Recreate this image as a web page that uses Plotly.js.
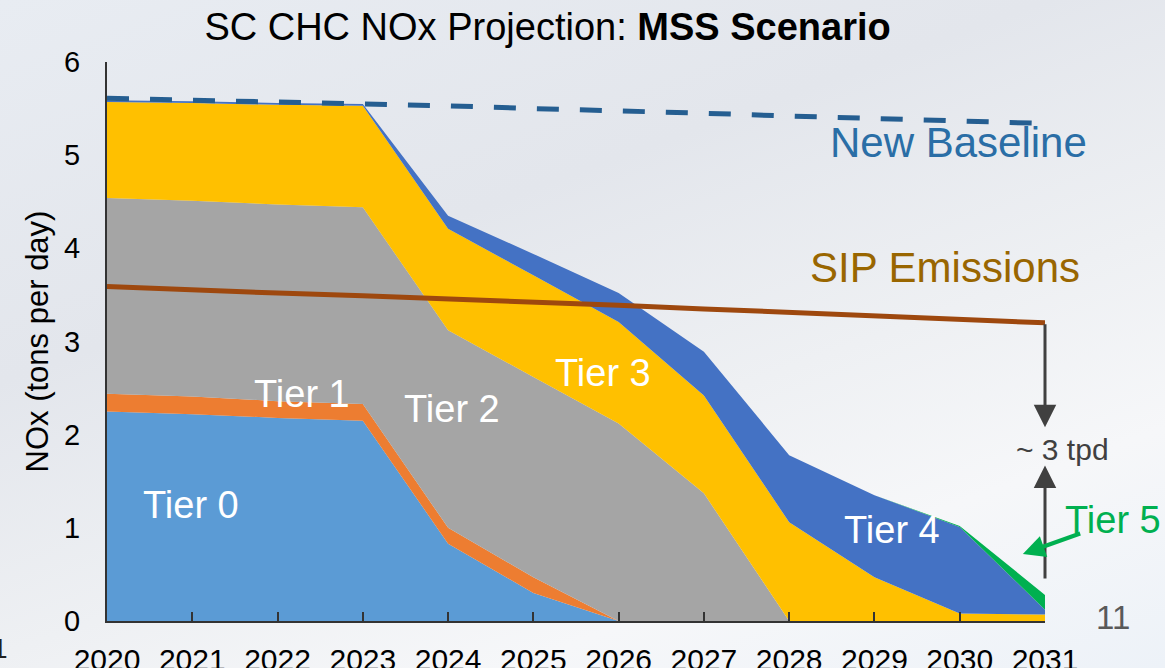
<!DOCTYPE html>
<html>
<head>
<meta charset="utf-8">
<script src="https://cdn.plot.ly/plotly-3.0.1.min.js"></script>
<style>
  html, body { margin: 0; padding: 0; }
  body {
    width: 1165px; height: 668px; overflow: hidden;
    background: linear-gradient(160deg, #E8ECF2 0%, #E3E6EC 35%, #EEF0F3 60%, #F6F7F9 78%, #EDF2F8 100%);
  }
  #chart { width: 1165px; height: 668px; }
</style>
</head>
<body>
<div id="chart"></div>
<script>
// ---- data ----
const years = [2020, 2021, 2022, 2023, 2024, 2025, 2026, 2027, 2028, 2029, 2030, 2031];
const tier0 = [2.25, 2.22, 2.18, 2.15, 0.83, 0.30, 0, 0, 0, 0, 0, 0];
const tier1 = [0.19, 0.19, 0.18, 0.18, 0.17, 0.17, 0, 0, 0, 0, 0, 0];
const tier2 = [2.10, 2.10, 2.11, 2.11, 2.12, 2.15, 2.12, 1.37, 0, 0, 0, 0];
const tier3 = [1.03, 1.05, 1.07, 1.09, 1.09, 1.09, 1.09, 1.05, 1.06, 0.47, 0.08, 0.07];
const tier4 = [0.02, 0.02, 0.02, 0.02, 0.14, 0.23, 0.31, 0.47, 0.72, 0.88, 0.93, 0.05];
const tier5 = [0, 0, 0, 0, 0, 0, 0, 0, 0, 0, 0.01, 0.16];
const newBaseline = [5.61, 5.59, 5.58, 5.56, 5.53, 5.50, 5.48, 5.45, 5.42, 5.39, 5.37, 5.34];
const sipEmissions = [3.59, 3.55, 3.52, 3.49, 3.46, 3.43, 3.39, 3.35, 3.31, 3.27, 3.24, 3.20];
const tierNames = ["Tier 0", "Tier 1", "Tier 2", "Tier 3", "Tier 4", "Tier 5"];
const tierColors = ["#5B9BD5", "#ED7D31", "#A5A5A5", "#FFC000", "#4472C4", "#00B050"];
const tierSeries = [tier0, tier1, tier2, tier3, tier4, tier5];

const FONT = "Arial, 'Liberation Sans', sans-serif";

const traces = tierSeries.map((vals, i) => ({
  x: years, y: vals, name: tierNames[i], type: "scatter",
  mode: "none", stackgroup: "tiers", fill: "tonexty",
  fillcolor: tierColors[i], hoverinfo: "skip"
}));
traces.push({
  x: years, y: sipEmissions, name: "SIP Emissions", type: "scatter", mode: "lines",
  line: { color: "#9E480E", width: 5 }, hoverinfo: "skip"
});
traces.push({
  x: years, y: newBaseline, name: "New Baseline", type: "scatter", mode: "lines",
  line: { color: "#255E91", width: 5, dash: "22px,21px" }, hoverinfo: "skip"
});

const lastYear = years[years.length - 1];
const sipEnd = sipEmissions[sipEmissions.length - 1];

const annotations = [
  { x: 2020.985, y: 1.245, text: "Tier 0", font: { size: 38, color: "#FFFFFF" } },
  { x: 2022.29, y: 2.44, text: "Tier 1", font: { size: 38, color: "#FFFFFF" } },
  { x: 2024.05, y: 2.28, text: "Tier 2", font: { size: 38, color: "#FFFFFF" } },
  { x: 2025.82, y: 2.66, text: "Tier 3", font: { size: 38, color: "#FFFFFF" } },
  { x: 2029.21, y: 0.98, text: "Tier 4", font: { size: 38, color: "#FFFFFF" } },
  { xref: "paper", yref: "paper", x: 1.0725, y: 0.181, text: "Tier 5", font: { size: 38, color: "#00B050" } },
  { x: 2029.98, y: 5.14, text: "New Baseline", font: { size: 42, color: "#2A6EA6" } },
  { x: 2029.83, y: 3.79, text: "SIP Emissions", font: { size: 42, color: "#996600" } },
  { xref: "paper", yref: "paper", x: 1.019, y: 0.306, text: "~ 3 tpd", font: { size: 30, color: "#404040" } },
  { xref: "paper", yref: "paper", x: 1.0725, y: 0.007, text: "11", font: { size: 33, color: "#595959" } },
  { xref: "paper", yref: "paper", x: -0.1035, y: -0.05, xanchor: "right", text: "1", font: { size: 28, color: "#202020" } },
  // down arrow from SIP line end
  { x: lastYear, y: 2.08, ax: lastYear, ay: sipEnd, axref: "x", ayref: "y", text: "",
    showarrow: true, arrowhead: 2, arrowsize: 1.5, arrowwidth: 3, arrowcolor: "#404040" },
  // up arrow
  { x: lastYear, y: 1.67, ax: lastYear, ay: 0.44, axref: "x", ayref: "y", text: "",
    showarrow: true, arrowhead: 2, arrowsize: 1.5, arrowwidth: 3, arrowcolor: "#404040" },
  // green arrow to Tier 5
  { x: 2030.74, y: 0.72, ax: 2031.43, ay: 0.945, axref: "x", ayref: "y", text: "",
    showarrow: true, arrowhead: 2, arrowsize: 1.1, arrowwidth: 4, arrowcolor: "#00B050" }
].map(a => Object.assign({ xref: "x", yref: "y", showarrow: false, xanchor: "center", yanchor: "middle" }, a,
  { font: Object.assign({ family: FONT }, a.font) }));

const layout = {
  width: 1165, height: 668,
  paper_bgcolor: "rgba(0,0,0,0)", plot_bgcolor: "rgba(0,0,0,0)",
  margin: { l: 107, r: 120, t: 62, b: 47, pad: 0 },
  showlegend: false,
  font: { family: FONT, color: "#000000" },
  title: {
    text: "SC CHC NOx Projection: <b>MSS Scenario</b>",
    font: { size: 38, family: FONT, color: "#000000" },
    x: 0.47, xanchor: "center", xref: "container",
    y: 1 - 27 / 668, yanchor: "middle", yref: "container"
  },
  xaxis: {
    range: [2020, 2031], tickvals: years, ticktext: years.map(String),
    ticks: "inside", ticklen: 9, tickwidth: 2, tickcolor: "#333333",
    showline: true, linecolor: "#333333", linewidth: 2,
    showgrid: false, zeroline: false, fixedrange: true,
    tickfont: { size: 30, family: FONT, color: "#000000" },
    ticklabelstandoff: 11
  },
  yaxis: {
    range: [0, 6], dtick: 1, tick0: 0,
    ticks: "", showline: true, linecolor: "#333333", linewidth: 2,
    showgrid: false, zeroline: false, fixedrange: true,
    tickfont: { size: 29, family: FONT, color: "#000000" },
    ticklabelstandoff: 19,
    title: { text: "NOx (tons per day)", font: { size: 31, family: FONT, color: "#000000" }, standoff: 6 }
  },
  annotations: annotations
};

Plotly.newPlot("chart", traces, layout, { staticPlot: true, displayModeBar: false });
</script>
</body>
</html>
